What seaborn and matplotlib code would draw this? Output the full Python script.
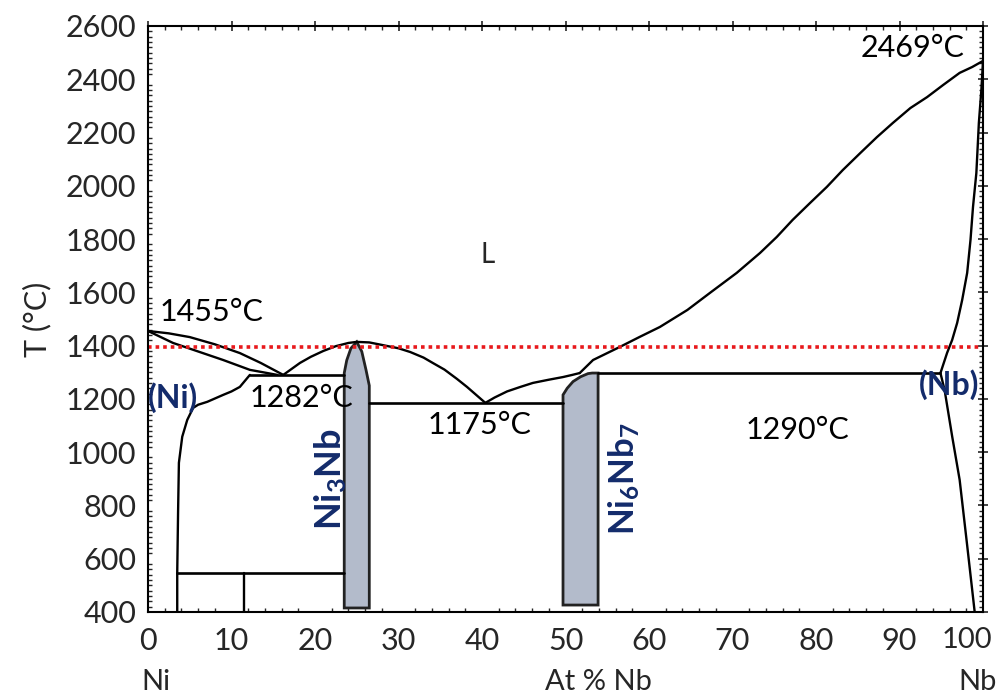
import pandas as pd
import matplotlib
matplotlib.use("Agg")
import matplotlib.pyplot as plt
import matplotlib.transforms as mtransforms
import seaborn as sns

# ---- phase boundaries (at.% Nb, T in degC) ----
ni_liquidus_x = [0, 2.5, 5, 8, 11, 13.5, 16.2]
ni_liquidus_t = [1455, 1446, 1432, 1405, 1372, 1335, 1290]

ni_solidus_x = [0, 3, 6, 9, 12.2, 15.5]
ni_solidus_t = [1455, 1410, 1378, 1346, 1309, 1290]

ni_solvus_x = [12.2, 11.0, 10.0, 9.0, 7.1, 6.0, 5.4, 4.7, 4.1, 3.7, 3.6, 3.5, 3.5]
ni_solvus_t = [1290, 1245, 1228, 1215, 1189, 1178, 1166, 1121, 1058, 960,
               772, 547, 400]

ni3nb_liq_x = [16.2, 17, 18.2, 19.5, 21, 22.5, 24, 25, 26.5, 28.1, 30, 31.4,
               33, 34.1, 35.5, 37, 38.2, 39.3, 40.4]
ni3nb_liq_t = [1290, 1308, 1335, 1358, 1380, 1398, 1410, 1414, 1412, 1402,
               1390, 1376, 1355, 1335, 1310, 1275, 1245, 1215, 1185]

mid_liq_x = [40.4, 41.5, 43, 44.6, 46.1, 48, 49.7, 50.8, 51.7]
mid_liq_t = [1185, 1205, 1228, 1245, 1260, 1272, 1282, 1290, 1297]

nb_liq_x = [51.7, 53.3, 56.5, 58.9, 61.3, 64.6, 67.3, 70.5, 73.3, 75.3, 77.2,
            79.3, 81.3, 83.2, 85.3, 87.3, 89.2, 91.3, 93.3, 95.2, 97.2, 98.7,
            100]
nb_liq_t = [1297, 1346, 1395, 1433, 1470, 1534, 1598, 1673, 1748, 1808, 1872,
            1936, 1996, 2059, 2123, 2183, 2236, 2292, 2333, 2378, 2424, 2446,
            2469]

nb_solidus_x = [100, 99.8, 99.5, 99.4, 99.2, 98.8, 98.5, 98.1, 97.5, 96.9,
                96.3, 95.7, 94.9]
nb_solidus_t = [2469, 2360, 2236, 2172, 2048, 1921, 1797, 1673, 1571, 1485,
                1421, 1373, 1297]

nb_solvus_x = [94.9, 95.4, 96.3, 97.2, 98.1, 99.0]
nb_solvus_t = [1297, 1233, 1060, 896, 650, 400]

# invariant lines: (x0, x1, T)
iso_lines = [
    (12.2, 23.5, 1290),   # 1282 eutectic
    (26.5, 49.7, 1185),   # 1175 eutectic
    (53.9, 94.9, 1297),   # 1290 eutectic
    (3.5, 23.5, 547),
]
vert_lines = [(11.5, 400, 547)]

# intermetallic fields
ni3nb_x = [23.5, 23.5, 23.8, 24.3, 25.0, 25.6, 26.1, 26.5, 26.5]
ni3nb_t = [415, 1297, 1345, 1390, 1414, 1378, 1310, 1250, 415]

ni6nb7_x = [49.7, 49.7, 50.2, 50.9, 51.8, 52.7, 53.2, 53.9, 53.9]
ni6nb7_t = [426, 1215, 1240, 1265, 1283, 1295, 1297, 1297, 426]

temp_ref = 1395

x_ticks = [0, 10, 20, 30, 40, 50, 60, 70, 80, 90, 100]
y_ticks = [400, 600, 800, 1000, 1200, 1400, 1600, 1800, 2000, 2200, 2400, 2600]

NAVY = "#132b6b"
FILL = "#b3bbcb"

sns.set_theme(style="white")
plt.rcParams["font.family"] = ["Lato", "DejaVu Sans"]
plt.rcParams["mathtext.fontset"] = "custom"
plt.rcParams["mathtext.rm"] = "Lato"
plt.rcParams["mathtext.bf"] = "Lato:bold"

fig = plt.figure(figsize=(9.98, 6.97), dpi=100)
ax = fig.add_axes([0.1483, 0.122, 0.8367, 0.8407])

curves = [
    (ni_liquidus_x, ni_liquidus_t),
    (ni_solidus_x, ni_solidus_t),
    (ni_solvus_x, ni_solvus_t),
    (ni3nb_liq_x, ni3nb_liq_t),
    (mid_liq_x, mid_liq_t),
    (nb_liq_x, nb_liq_t),
    (nb_solidus_x, nb_solidus_t),
    (nb_solvus_x, nb_solvus_t),
]
for xs, ts in curves:
    df = pd.DataFrame({"x": xs, "T": ts})
    sns.lineplot(data=df, x="x", y="T", sort=False, estimator=None,
                 color="black", linewidth=1.7, ax=ax)

for x0, x1, t in iso_lines:
    ax.plot([x0, x1], [t, t], color="black", linewidth=1.9)
for x, t0, t1 in vert_lines:
    ax.plot([x, x], [t0, t1], color="black", linewidth=1.7)

ax.fill(ni3nb_x, ni3nb_t, facecolor=FILL, edgecolor="#222222", linewidth=2)
ax.fill(ni6nb7_x, ni6nb7_t, facecolor=FILL, edgecolor="#222222", linewidth=2)

ax.axhline(temp_ref, color="#e8191c", linestyle=(0, (1, 1.1)), linewidth=2.6)

ax.set_xlim(0, 100)
ax.set_ylim(400, 2600)
ax.set_xticks(x_ticks)
ax.set_yticks(y_ticks)
ax.set_xticks(range(0, 101, 2), minor=True)
ax.set_yticks(range(400, 2601, 20), minor=True)
ax.tick_params(axis="both", which="major", labelsize=22, direction="inout",
               length=7, width=1.2, top=True, right=True, pad=5)
ax.tick_params(axis="both", which="minor", direction="in", length=3,
               width=1, top=True, right=True, bottom=True, left=True)
ax.tick_params(axis="x", which="major", pad=7)
for s in ax.spines.values():
    s.set_linewidth(1.5)
    s.set_color("black")

# nudge the "100" label so it stays inside the canvas
last = ax.get_xticklabels()[-1]
last.set_fontsize(21)
last.set_transform(last.get_transform() +
                   mtransforms.ScaledTranslation(-16 / 100, 0,
                                                 fig.dpi_scale_trans))

ax.set_xlabel("")
ax.set_ylabel("T (°C)", fontsize=22, labelpad=10)

# annotations
txt = dict(fontsize=22, color="black", va="center")
ax.text(40.7, 1740, "L", ha="center", fontsize=20, va="center")
ax.text(1.4, 1526, "1455°C", ha="left", **txt)
ax.text(12.2, 1203, "1282°C", ha="left", **txt)
ax.text(33.5, 1102, "1175°C", ha="left", **txt)
ax.text(71.6, 1083, "1290°C", ha="left", **txt)
ax.text(85.3, 2517, "2469°C", ha="left", **txt)

ax.text(0.0, 1203, "(Ni)", ha="left", va="center", fontsize=23,
        fontweight="bold", color=NAVY)
ax.text(92.3, 1252, "(Nb)", ha="left", va="center", fontsize=23,
        fontweight="bold", color=NAVY)
ax.text(21.9, 900, r"$\mathbf{Ni_3Nb}$", rotation=90, ha="center",
        va="center", fontsize=26, color=NAVY)
ax.text(57.0, 900, r"$\mathbf{Ni_6Nb_7}$", rotation=90, ha="center",
        va="center", fontsize=25, color=NAVY)

fig.text(156 / 998, 1 - 682 / 697, "Ni", ha="center", va="center", fontsize=21)
fig.text(598 / 998, 1 - 682 / 697, "At % Nb", ha="center", va="center",
         fontsize=21)
fig.text(978 / 998, 1 - 682 / 697, "Nb", ha="center", va="center", fontsize=21)

fig.savefig("out.png", dpi=100)
plt.close(fig)
